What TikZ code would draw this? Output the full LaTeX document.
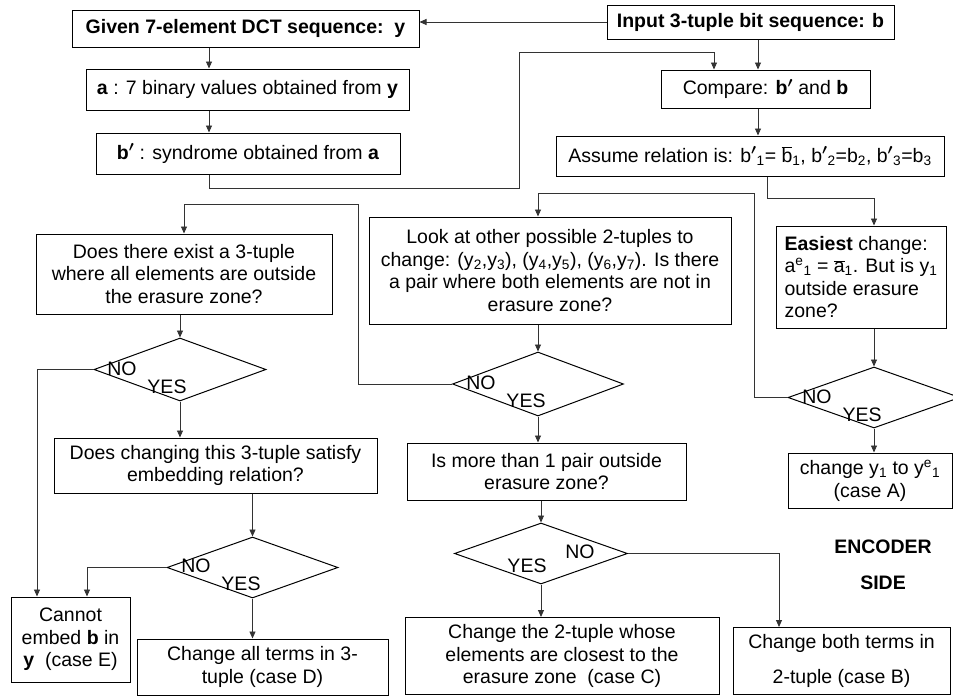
\documentclass[tikz,border=0pt]{standalone}
\usepackage{fontspec}
\setmainfont{Liberation Sans}
\usetikzlibrary{shapes.geometric, arrows.meta, positioning}

\newcommand{\bprime}{\textbf{b}{\boldmath$'$}}
\newcommand{\pr}{{\boldmath$'$}}

\begin{document}
\begin{tikzpicture}[
    x=1pt, y=-1pt,
    every node/.style={font=\fontsize{19.5}{22.5}\selectfont},
    process/.style={rectangle, draw=black, line width=1pt, align=center, inner sep=2pt},
    decision/.style={diamond, draw=black, line width=1pt, inner sep=0pt},
    answer/.style={inner sep=0pt},
    arrow/.style={->, >={Triangle[length=7pt,width=6pt]}, draw=black!80, line width=0.9pt}
]
\useasboundingbox (0,0) rectangle (953,696);

% Top row
\node[process, minimum width=347pt, minimum height=37pt] (given) at (245.5,28.5) {\textbf{Given 7-element DCT sequence:\ \ y}};
\node[process, minimum width=287pt, minimum height=34pt] (input) at (750.5,22) {\textbf{Input 3-tuple bit sequence: b}};
\node[process, minimum width=323pt, minimum height=41pt] (abox) at (247.5,89.5) {\textbf{a} : 7 binary values obtained from \textbf{y}};
\node[process, minimum width=304pt, minimum height=41pt] (bpbox) at (248,153.5) {\bprime\ : syndrome obtained from \textbf{a}};
\node[process, minimum width=209pt, minimum height=38pt] (compare) at (765.5,89) {Compare: \bprime\ and \textbf{b}};
\node[process, minimum width=388pt, minimum height=40pt] (assume) at (750,156) {Assume relation is: b\pr\textsubscript{1}= $\overline{\mbox{b}}$\textsubscript{1}, b\pr\textsubscript{2}=b\textsubscript{2}, b\pr\textsubscript{3}=b\textsubscript{3}};

% Questions
\node[process, minimum width=296pt, minimum height=80pt] (exist) at (184,274) {Does there exist a 3-tuple\\where all elements are outside\\the erasure zone?};
\node[process, minimum width=362pt, minimum height=107pt] (lookat) at (550,270.5) {Look at other possible 2-tuples to\\change: (y\textsubscript{2},y\textsubscript{3}), (y\textsubscript{4},y\textsubscript{5}), (y\textsubscript{6},y\textsubscript{7}). Is there\\a pair where both elements are not in\\erasure zone?};
\node[process, align=left, minimum width=170pt, minimum height=102pt] (easiest) at (861,277) {\textbf{Easiest} change:\\a\textsuperscript{e}\textsubscript{1} = $\overline{\mbox{a}}$\textsubscript{1}. But is y\textsubscript{1}\\outside erasure\\zone?};
\node[process, minimum width=323pt, minimum height=55pt] (satisfy) at (215.5,465.5) {Does changing this 3-tuple satisfy\\embedding relation?};
\node[process, minimum width=279pt, minimum height=57pt] (ismore) at (546.5,471.5) {Is more than 1 pair outside\\erasure zone?};

% Decisions
\node[decision, minimum width=172pt, minimum height=63pt] (d1) at (180,369.5) {};
\node[decision, minimum width=171pt, minimum height=64pt] (d3) at (538,384) {};
\node[decision, minimum width=172pt, minimum height=61pt] (d5) at (874,397.5) {};
\node[decision, minimum width=171pt, minimum height=61pt] (d2) at (252.5,567.5) {};
\node[decision, minimum width=173pt, minimum height=61pt] (d4) at (541,553.5) {};

% Answers on the decisions
\node[answer] (no1) at (122,369) {NO};
\node[answer] (yes1) at (167,387) {YES};
\node[answer] (no3) at (481,383) {NO};
\node[answer] (yes3) at (526,401) {YES};
\node[answer] (no5) at (817,396.5) {NO};
\node[answer] (yes5) at (862,414.5) {YES};
\node[answer] (no2) at (196,566) {NO};
\node[answer] (yes2) at (241,584) {YES};
\node[answer] (no4) at (580,552) {NO};
\node[answer] (yes4) at (527,566) {YES};

% Outcomes
\node[process, minimum width=164pt, minimum height=55pt] (caseA) at (870,480.5) {change y\textsubscript{1} to y\textsuperscript{e}\textsubscript{1}\\(case A)};
\node[process, minimum width=217pt, minimum height=67pt] (caseB) at (841.5,661) {Change both terms in\\[13pt]2-tuple (case B)};
\node[process, minimum width=314pt, minimum height=77pt] (caseC) at (562,656) {Change the 2-tuple whose\\elements are closest to the\\erasure zone\ \ (case C)};
\node[process, minimum width=251pt, minimum height=56pt] (caseD) at (262.5,667) {Change all terms in 3-\\tuple (case D)};
\node[process, minimum width=119pt, minimum height=85pt] (cannot) at (70.5,639.5) {Cannot\\embed \textbf{b} in\\\textbf{y}\ \ (case E)};

\node[answer, align=center] (encoder) at (883,565) {\textbf{ENCODER}\\[14pt]\textbf{SIDE}};

% Bends of the connectors
\coordinate (spineL) at (209,0);
\coordinate (spineC) at (714,0);
\coordinate (spineM) at (758,0);
\coordinate (spineR) at (874,0);
\coordinate (spineB) at (779,0);
\coordinate (spineE1) at (37,0);
\coordinate (spineE2) at (87,0);
\coordinate (fbA) at (519,188);
\coordinate (fbB) at (519,52);
\coordinate (asA) at (767,198);
\coordinate (noR) at (754,193);
\coordinate (noM) at (358,204);

% Connections - top
\draw[arrow] (input.west) -- (input.west -| given.east);
\draw[arrow] (given.south -| spineL) -- (abox.north -| spineL);
\draw[arrow] (abox.south -| spineL) -- (bpbox.north -| spineL);
\draw[arrow] (bpbox.south -| spineL) |- (fbA) -- (fbB) -| (compare.north -| spineC);
\draw[arrow] (input.south -| spineM) -- (compare.north -| spineM);
\draw[arrow] (compare.south -| spineM) -- (assume.north -| spineM);
\draw[arrow] (assume.south -| asA) -- (asA) -| (easiest.north -| spineR);

% Right column
\draw[arrow] (easiest.south -| spineR) -- (d5.north);
\draw[arrow] (d5.south) -- (d5.south |- caseA.north);
\draw[arrow] (d5.west) -| (noR) -| (lookat.north -| d3.north);

% Middle column
\draw[arrow] (lookat.south -| d3.north) -- (d3.north);
\draw[arrow] (d3.west) -| (noM) -| (exist.north);
\draw[arrow] (d3.south) -- (d3.south |- ismore.north);
\draw[arrow] (ismore.south -| d4.north) -- (d4.north);
\draw[arrow] (d4.south) -- (d4.south |- caseC.north);
\draw[arrow] (d4.east) -| (caseB.north -| spineB);

% Left column
\draw[arrow] (exist.south -| d1.north) -- (d1.north);
\draw[arrow] (d1.south) -- (d1.south |- satisfy.north);
\draw[arrow] (d1.west) -| (cannot.north -| spineE1);
\draw[arrow] (satisfy.south -| d2.north) -- (d2.north);
\draw[arrow] (d2.west) -| (cannot.north -| spineE2);
\draw[arrow] (d2.south) -- (d2.south |- caseD.north);

\end{tikzpicture}
\end{document}
